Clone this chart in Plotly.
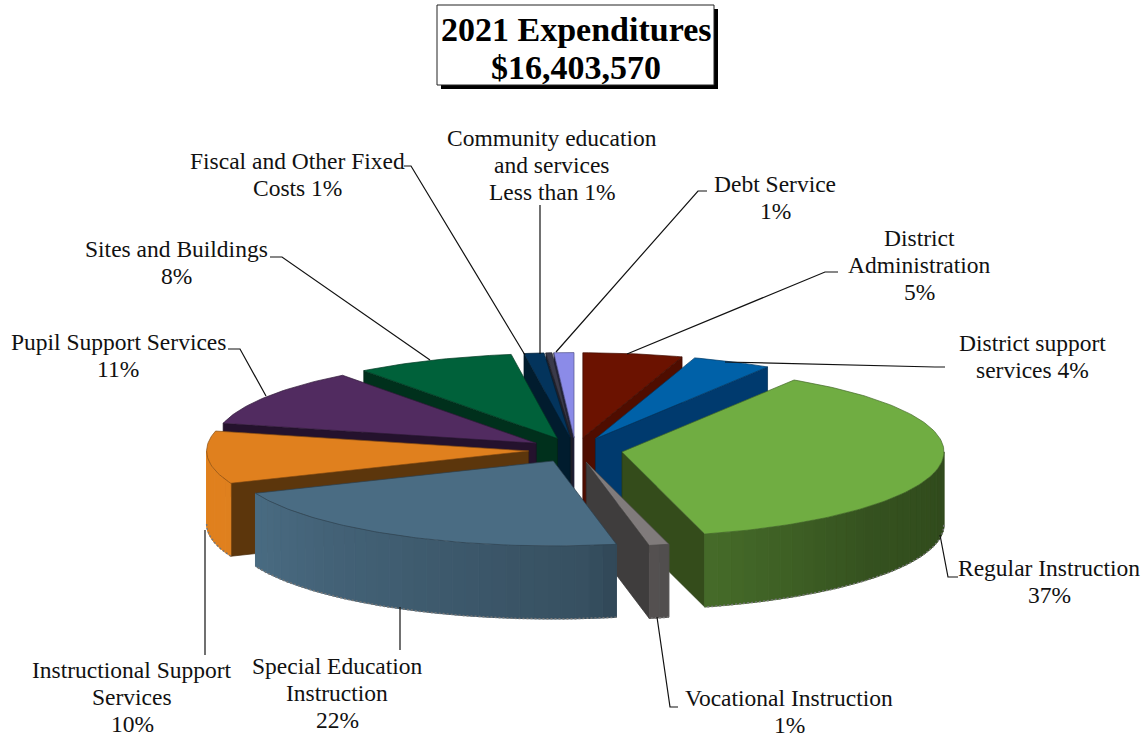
import numpy as np
import plotly.graph_objects as go

# Budget shares in percent, clockwise from twelve o'clock
CATEGORIES = [
    "District Administration", "District support services", "Regular Instruction",
    "Vocational Instruction", "Special Education Instruction",
    "Instructional Support Services", "Pupil Support Services", "Sites and Buildings",
    "Fiscal and Other Fixed Costs", "Community education and services", "Debt Service",
]
SHARES = [5, 4, 37, 1, 22, 10, 11, 8, 1, 0.3, 1]
TOP_COLORS = ["#6b1200", "#0061a8", "#70ad42", "#807b7b", "#4a6c83", "#e0801e",
              "#512b60", "#00613a", "#03345c", "#3a3a4a", "#8b8be8"]
CUT_COLORS = ["#4f0d00", "#003a6e", "#344c1b", "#3f3d3d", "#37505f", "#5c360c",
              "#24122d", "#00301c", "#011c2e", "#20202a", "#22223a"]

# Slices from rear to front, so nearer ones paint over farther ones
DRAW_ORDER = [10, 9, 8, 0, 7, 1, 6, 5, 2, 3, 4]

TITLE_LINES = ["2021 Expenditures", "$16,403,570"]
LABELS = [
    (["Community education", "and services", "Less than 1%"], 552, 138),
    (["Fiscal and Other Fixed", "Costs 1%"], 297, 161),
    (["Debt Service", "1%"], 775, 184),
    (["District", "Administration", "5%"], 919, 238),
    (["District support", "services 4%"], 1032, 343),
    (["Regular Instruction", "37%"], 1049, 568),
    (["Vocational Instruction", "1%"], 789, 698),
    (["Special Education", "Instruction", "22%"], 337, 666),
    (["Instructional Support", "Services", "10%"], 132, 670),
    (["Pupil Support Services", "11%"], 118, 342),
    (["Sites and Buildings", "8%"], 176, 249),
]
LEADERS = [
    ([404, 411, 525], [166, 166, 355]),
    ([540, 540], [205, 354]),
    ([707, 698, 556], [191, 191, 352]),
    ([838, 825, 627], [272, 272, 354]),
    ([945, 935, 725], [367, 367, 362]),
    ([958, 948, 940], [577, 577, 535]),
    ([678, 670, 657], [707, 707, 617]),
    ([400, 400], [650, 607]),
    ([205, 205], [655, 530]),
    ([228, 240, 266], [349, 349, 396]),
    ([270, 282, 430], [257, 257, 360]),
]

# Oblique projection of the disc onto the page
CX, CY = 575.5, 450.0
RX, RY = 322.0, 85.0
DEPTH = 73.0
EXPLODE = 0.146
LINE_STEP = 27
LIGHT_ANGLES = [90, 130, 165, 175, 250, 360]
LIGHT_LEVELS = [0.42, 0.47, 0.62, 0.74, 1.0, 1.0]


def shade(color, k):
    r, g, b = (int(color[i:i + 2], 16) for i in (1, 3, 5))
    return f"rgb({r * k:.0f},{g * k:.0f},{b * k:.0f})"


def project(theta_deg, radius, apex):
    t = np.radians(theta_deg)
    return apex[0] + RX * radius * np.sin(t), apex[1] - RY * radius * np.cos(t)


def add_polygon(fig, xs, ys, fill, line=None, width=1.0):
    fig.add_trace(go.Scatter(
        x=list(xs) + [xs[0]], y=list(ys) + [ys[0]], mode="lines", fill="toself",
        fillcolor=fill, line=dict(color=line or fill, width=width),
        hoverinfo="skip", showlegend=False,
    ))


def draw_cut(fig, angle, apex, color):
    rx, ry = project(angle, 1.0, apex)
    add_polygon(fig, [apex[0], rx, rx, apex[0]],
                [apex[1], ry, ry + DEPTH, apex[1] + DEPTH], color,
                line=shade(color, 0.75), width=0.7)


def draw_slice(fig, start, end, top, cut):
    mid = (start + end) / 2
    apex = project(mid, EXPLODE, (CX, CY))

    # Radial faces turned towards the viewer
    if np.sin(np.radians(start)) < 0:
        draw_cut(fig, start, apex, cut)
    if np.sin(np.radians(end)) > 0:
        draw_cut(fig, end, apex, cut)

    # Outer wall, lit from the left, built from narrow strips
    lo, hi = max(start, 90), min(end, 270)
    if hi > lo:
        edges = np.linspace(lo, hi, int(np.ceil((hi - lo) / 2.5)) + 1)
        for a, b in zip(edges[:-1], edges[1:]):
            x0, y0 = project(a, 1.0, apex)
            x1, y1 = project(b, 1.0, apex)
            k = float(np.interp((a + b) / 2, LIGHT_ANGLES, LIGHT_LEVELS))
            add_polygon(fig, [x0, x1, x1, x0], [y0, y1, y1 + DEPTH, y0 + DEPTH], shade(top, k))
        arc = np.linspace(lo, hi, 60)
        bx, by = project(arc, 1.0, apex)
        fig.add_trace(go.Scatter(
            x=bx, y=by + DEPTH, mode="lines", hoverinfo="skip", showlegend=False,
            line=dict(color="#777777", width=1.5, dash="2px,2px"),
        ))

    # Top face
    arc = np.linspace(start, end, max(3, int(end - start) + 2))
    ax, ay = project(arc, 1.0, apex)
    add_polygon(fig, [apex[0]] + list(ax), [apex[1]] + list(ay), top,
                line=shade(top, 0.6), width=0.7)


fig = go.Figure()

bounds = np.concatenate([[0], np.cumsum(SHARES)]) / sum(SHARES) * 360

for i in DRAW_ORDER:
    draw_slice(fig, bounds[i], bounds[i + 1], TOP_COLORS[i], CUT_COLORS[i])

for lx, ly in LEADERS:
    fig.add_trace(go.Scatter(x=lx, y=ly, mode="lines", hoverinfo="skip", showlegend=False,
                             line=dict(color="#111111", width=1.2)))

for lines, x, y in LABELS:
    for n, text in enumerate(lines):
        fig.add_annotation(x=x, y=y + n * LINE_STEP, text=text, showarrow=False,
                           xanchor="center", yanchor="middle",
                           font=dict(family="Liberation Serif", size=23.5, color="#111111"))

for text, y in zip(TITLE_LINES, [29, 67]):
    fig.add_annotation(x=576, y=y, text=f"<b>{text}</b>", showarrow=False,
                       xanchor="center", yanchor="middle",
                       font=dict(family="Liberation Serif", size=34, color="#000000"))

fig.update_layout(
    width=1148, height=738, margin=dict(l=0, r=0, t=0, b=0),
    paper_bgcolor="white", plot_bgcolor="white", showlegend=False,
    xaxis=dict(range=[0, 1148], visible=False, fixedrange=True),
    yaxis=dict(range=[738, 0], visible=False, fixedrange=True),
    shapes=[
        dict(type="rect", x0=441, y0=9, x1=718, y1=89, fillcolor="#000000", line=dict(width=0), layer="below"),
        dict(type="rect", x0=437, y0=5, x1=714, y1=85, fillcolor="#ffffff",
             line=dict(color="#222222", width=1), layer="below"),
    ],
)

fig.write_html("out.html")
